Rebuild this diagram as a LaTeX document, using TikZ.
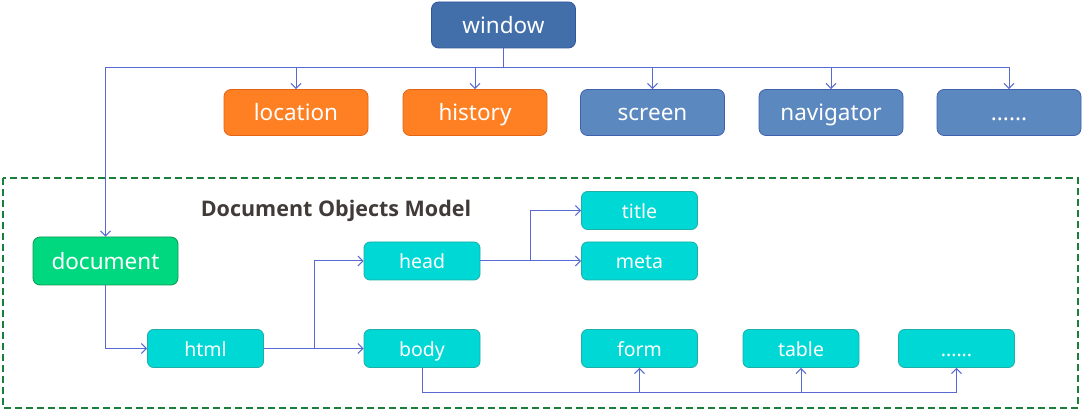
\documentclass[tikz,border=0pt]{standalone}
\usepackage{fontspec}
\setmainfont{Noto Sans}
\newfontfamily\titlefont{Open Sans}
\usetikzlibrary{arrows.meta}
\definecolor{linec}{RGB}{88,106,210}
\definecolor{cyanf}{RGB}{0,216,214}
\definecolor{cyand}{RGB}{30,175,168}
\definecolor{orangef}{RGB}{255,128,34}
\definecolor{oranged}{RGB}{226,100,20}
\definecolor{bluef}{RGB}{92,136,192}
\definecolor{blued}{RGB}{66,96,176}
\definecolor{winf}{RGB}{66,110,170}
\definecolor{wind}{RGB}{50,85,160}
\definecolor{docf}{RGB}{0,216,128}
\definecolor{docd}{RGB}{16,150,80}
\definecolor{dashg}{RGB}{26,127,58}
\definecolor{titlec}{RGB}{64,58,56}
\tikzset{
  bigbox/.style={draw, rounded corners=7pt, minimum width=144pt, minimum height=46pt,
    inner sep=0pt, text=white, line width=0.8pt, font=\fontsize{22.5}{26}\selectfont,
    text height=20pt, text depth=3pt},
  orangebox/.style={bigbox, fill=orangef, draw=oranged},
  bluebox/.style={bigbox, fill=bluef, draw=blued},
  smallbox/.style={draw=cyand, fill=cyanf, rounded corners=6pt, minimum width=116pt,
    minimum height=38pt, inner sep=0pt, text=white, line width=0.8pt,
    font=\fontsize{19.5}{22}\selectfont, text height=18pt, text depth=2.5pt},
  wire/.style={draw=linec, line width=1pt},
  conn/.style={wire, -{Straight Barb[length=5pt,width=10pt]}}
}
\begin{document}
\begin{tikzpicture}[x=1pt,y=-1pt]
\useasboundingbox (0,0) rectangle (1083,411);
% dashed region
\draw[dashg, line width=1.6pt, dash pattern=on 7pt off 4pt] (3,178) rectangle (1078,408);
\node[font=\titlefont\bfseries\fontsize{21.5}{24}\selectfont, text=titlec] (dom) at (336,211) {Document Objects Model};
% top level
\node[bigbox, fill=winf, draw=wind] (window) at (503.5,25) {window};
\node[orangebox] (location) at (296,112.5) {location};
\node[orangebox] (history) at (475,112.5) {history};
\node[bluebox] (screen) at (652.5,112.5) {screen};
\node[bluebox] (navigator) at (831,112.5) {navigator};
\node[bluebox] (more1) at (1009,112.5) {......};
\node[bigbox, fill=docf, draw=docd, minimum width=145pt, minimum height=48pt] (document) at (105.5,261) {document};
% dom nodes
\node[smallbox] (html) at (205.5,348.5) {html};
\node[smallbox] (head) at (422,261) {head};
\node[smallbox] (body) at (422,348.5) {body};
\node[smallbox] (title) at (639.5,210.5) {title};
\node[smallbox] (meta) at (639.5,261) {meta};
\node[smallbox] (form) at (639.5,348.5) {form};
\node[smallbox] (table) at (801,348.5) {table};
\node[smallbox] (more2) at (956.5,348.5) {......};
% connectors
\coordinate (wj) at (503.5,68);
\draw[wire] (window.south) -- (wj);
\draw[conn] (wj) -| (document.north);
\draw[conn] (wj) -| (location.north);
\draw[conn] (wj) -| (history.north);
\draw[conn] (wj) -| (screen.north);
\draw[conn] (wj) -| (navigator.north);
\draw[conn] (wj) -| (more1.north);
\draw[conn] (document.south) |- (html.west);
\coordinate (hj) at (314,348.5);
\draw[conn] (html.east) -- (body.west);
\draw[conn] (hj) |- (head.west);
\coordinate (tj) at (530,261);
\draw[conn] (head.east) -- (meta.west);
\draw[conn] (tj) |- (title.west);
\coordinate (bj) at (422,392);
\draw[wire] (body.south) -- (bj);
\draw[conn] (bj) -| (form.south);
\draw[conn] (bj) -| (table.south);
\draw[conn] (bj) -| (more2.south);
\end{tikzpicture}
\end{document}
